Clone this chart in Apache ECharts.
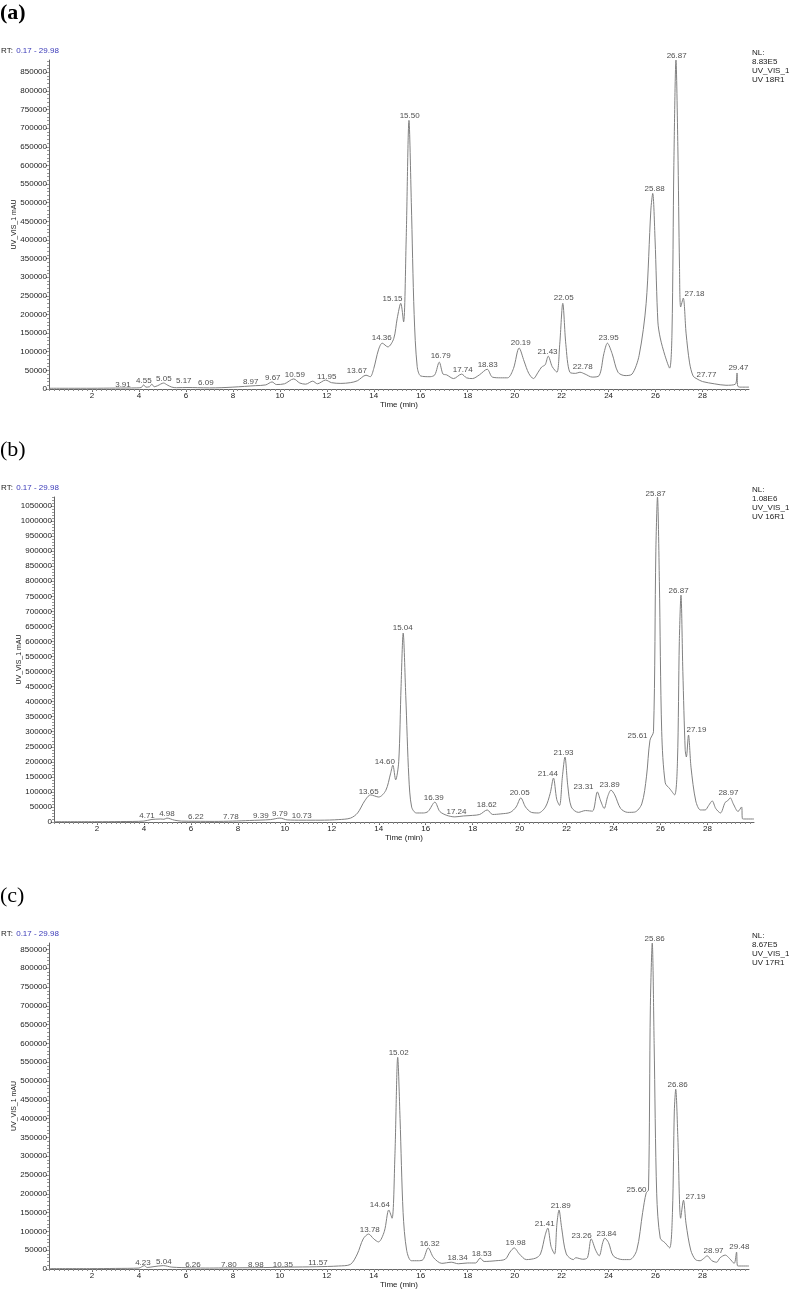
<!DOCTYPE html>
<html>
<head>
<meta charset="utf-8">
<script src="https://cdn.jsdelivr.net/npm/echarts@6/dist/echarts.min.js"></script>
<style>
  html, body { margin: 0; padding: 0; background: #fff; }
  #chart { width: 789px; height: 1290px; }
</style>
</head>
<body>
<div id="chart"></div>
<script>
// retention time (min) / intensity pairs
const traceA = [[0.17,2000],[1,2000],[2,2000],[3,2500],[3.91,3000],[4.1,4000],[4.2,11000],[4.3,5000],[4.45,6000],[4.55,13000],[4.65,6000],[4.8,9000],[5.05,16000],[5.2,11000],[5.4,5000],[5.6,3500],[6.09,4000],[6.5,3500],[7,3000],[7.5,3500],[8,5000],[8.5,7000],[8.97,9000],[9.4,11000],[9.67,19000],[9.85,12000],[10.2,14000],[10.59,27000],[10.85,16000],[11.1,13000],[11.4,21000],[11.6,14000],[11.95,24000],[12.2,17000],[12.6,15000],[13.0,17000],[13.3,22000],[13.67,37000],[13.85,33000],[14.0,55000],[14.2,105000],[14.36,123000],[14.6,113000],[14.85,135000],[15.0,190000],[15.15,230000],[15.27,180000],[15.38,400000],[15.5,721000],[15.6,500000],[15.72,200000],[15.85,60000],[16.0,35000],[16.4,33000],[16.6,38000],[16.79,72000],[16.95,40000],[17.1,38000],[17.4,28000],[17.74,40000],[17.95,30000],[18.2,28000],[18.5,38000],[18.83,53000],[19.05,32000],[19.4,30000],[19.7,30000],[19.95,55000],[20.19,110000],[20.4,75000],[20.6,42000],[20.8,28000],[21.0,45000],[21.15,59000],[21.3,65000],[21.43,88000],[21.6,60000],[21.8,45000],[21.92,120000],[22.05,230000],[22.18,120000],[22.35,45000],[22.6,42000],[22.78,45000],[23.0,40000],[23.3,32000],[23.6,36000],[23.8,95000],[23.95,123000],[24.15,95000],[24.4,45000],[24.7,36000],[25.0,40000],[25.3,90000],[25.6,230000],[25.8,480000],[25.88,525000],[25.98,400000],[26.1,180000],[26.2,137000],[26.4,90000],[26.6,56000],[26.7,150000],[26.78,600000],[26.87,883000],[26.95,650000],[27.02,330000],[27.07,220000],[27.18,244000],[27.3,150000],[27.45,70000],[27.6,35000],[27.77,27000],[28.0,20000],[28.5,14000],[29.0,10000],[29.4,13000],[29.47,43000],[29.5,8000],[29.6,5000],[29.98,5000]];

const traceB = [[0.17,1000],[2,1000],[3,1500],[4,3000],[4.3,8000],[4.71,10000],[4.85,9000],[4.98,13000],[5.3,6000],[5.6,3000],[6.22,2500],[7,2000],[7.78,3000],[8.5,5000],[9.39,8000],[9.79,13000],[10.1,7000],[10.73,6000],[11.5,6000],[12.3,8000],[12.8,13000],[13.1,30000],[13.4,70000],[13.65,90000],[14.0,83000],[14.3,105000],[14.5,160000],[14.6,189000],[14.72,140000],[14.85,200000],[14.95,450000],[15.04,628000],[15.15,420000],[15.28,150000],[15.4,50000],[15.6,30000],[15.9,30000],[16.1,35000],[16.39,66000],[16.6,35000],[16.9,22000],[17.24,17000],[17.6,20000],[18.0,22000],[18.3,25000],[18.62,40000],[18.85,25000],[19.2,27000],[19.6,32000],[19.85,50000],[20.05,80000],[20.25,50000],[20.5,32000],[20.8,30000],[21.1,50000],[21.3,95000],[21.44,146000],[21.58,75000],[21.7,55000],[21.82,150000],[21.93,216000],[22.05,120000],[22.2,50000],[22.5,32000],[22.8,38000],[23.1,36000],[23.31,100000],[23.45,70000],[23.6,45000],[23.75,85000],[23.89,106000],[24.05,90000],[24.3,45000],[24.6,32000],[24.9,33000],[25.2,60000],[25.4,150000],[25.55,272000],[25.7,300000],[25.8,900000],[25.87,1080000],[25.95,800000],[26.05,300000],[26.2,130000],[26.4,110000],[26.6,90000],[26.72,200000],[26.8,600000],[26.87,754000],[26.95,500000],[27.05,240000],[27.1,216000],[27.19,289000],[27.3,180000],[27.5,70000],[27.7,40000],[27.9,40000],[28.05,55000],[28.2,70000],[28.35,45000],[28.55,30000],[28.75,65000],[28.85,70000],[28.97,80000],[29.1,60000],[29.3,35000],[29.45,50000],[29.5,10000],[29.98,10000]];

const traceC = [[0.17,1000],[2,1000],[3,1500],[4,2500],[4.23,9000],[4.35,4000],[4.6,6000],[5.04,9000],[5.4,5000],[6.26,3000],[7,2500],[7.8,3000],[8.98,3500],[10.35,5000],[11.57,6000],[12.5,8000],[13.0,12000],[13.3,40000],[13.55,80000],[13.78,93000],[14.0,80000],[14.2,72000],[14.45,100000],[14.64,157000],[14.78,135000],[14.9,300000],[15.02,563000],[15.12,400000],[15.25,150000],[15.4,50000],[15.6,22000],[15.9,22000],[16.1,25000],[16.32,56000],[16.55,30000],[16.9,15000],[17.3,18000],[17.6,14000],[18.0,16000],[18.34,16000],[18.53,29000],[18.7,20000],[19.2,22000],[19.6,26000],[19.8,45000],[19.98,56000],[20.2,40000],[20.5,25000],[20.9,29000],[21.1,40000],[21.3,90000],[21.41,109000],[21.55,60000],[21.7,40000],[21.8,120000],[21.89,157000],[22.0,110000],[22.2,40000],[22.5,25000],[22.6,30000],[22.9,26000],[23.1,30000],[23.26,80000],[23.45,50000],[23.6,35000],[23.75,70000],[23.84,82000],[24.0,70000],[24.2,35000],[24.6,25000],[24.9,25000],[25.2,50000],[25.45,150000],[25.6,202000],[25.7,210000],[25.78,700000],[25.86,867000],[25.94,600000],[26.05,200000],[26.2,82000],[26.4,70000],[26.6,56000],[26.72,150000],[26.8,420000],[26.86,478000],[26.95,350000],[27.07,135000],[27.19,183000],[27.3,120000],[27.5,50000],[27.7,25000],[27.9,22000],[28.05,28000],[28.2,35000],[28.4,22000],[28.6,18000],[28.75,30000],[28.97,37000],[29.15,28000],[29.35,15000],[29.45,45000],[29.5,8000],[29.98,8000]];

// peak annotations: [label text, label centre time, label centre intensity]
const peaksA = [['3.91',3.32,10700],['4.55',4.21,21500],['5.05',5.06,26800],['5.17',5.91,21500],['6.09',6.85,16100],['8.97',8.76,18800],['9.67',9.70,29500],['10.59',10.64,37500],['11.95',12.0,32200],['13.67',13.28,48300],['14.36',14.34,136800],['15.15',14.8,241300],['15.50',15.53,732000],['16.79',16.85,88500],['17.74',17.79,51000],['18.83',18.85,64400],['20.19',20.26,123300],['21.43',21.4,99200],['22.05',22.09,244000],['22.78',22.9,59000],['23.95',24.0,136800],['25.88',25.96,536300],['26.87',26.9,895600],['27.18',27.66,254700],['27.77',28.17,37500],['29.47',29.53,56300]];

const peaksB = [['4.71',4.13,19900],['4.98',4.98,26600],['6.22',6.21,16600],['7.78',7.7,16600],['9.39',8.98,19900],['9.79',9.79,26600],['10.73',10.72,19900],['13.65',13.57,99700],['14.60',14.26,199400],['15.04',15.02,644600],['16.39',16.34,79700],['17.24',17.31,33200],['18.62',18.6,56500],['20.05',20.0,96400],['21.44',21.2,159500],['21.93',21.87,229300],['23.31',22.72,116300],['23.89',23.83,122900],['25.61',25.02,285800],['25.87',25.79,1089900],['26.87',26.77,767600],['27.19',27.53,305700],['28.97',28.89,96400]];

const peaksC = [['4.23',4.17,15900],['5.04',5.06,18600],['6.26',6.3,10600],['7.80',7.83,10600],['8.98',8.98,10600],['10.35',10.13,10600],['11.57',11.62,15900],['13.78',13.83,103600],['14.64',14.26,170000],['15.02',15.06,573700],['16.32',16.38,66400],['18.34',17.57,29200],['18.53',18.6,39800],['19.98',20.04,69100],['21.41',21.28,119500],['21.89',21.96,167300],['23.26',22.85,87600],['23.84',23.91,93000],['25.60',25.19,209800],['25.86',25.96,879100],['26.86',26.94,488700],['27.19',27.7,191200],['28.97',28.47,47800],['29.48',29.57,58400]];

const panelTitles = ['(a)', '(b)', '(c)'];
const nlValues = [883000, 1080000, 867000];
const nlTexts = ['8.83E5', '1.08E6', '8.67E5'];
const runNames = ['UV 18R1', 'UV 16R1', 'UV 17R1'];
const yTopLabels = [850000, 1050000, 850000];
const timeTicks = [2, 4, 6, 8, 10, 12, 14, 16, 18, 20, 22, 24, 26, 28];
const rtMin = 0.17, rtMax = 29.98;

const traces = [traceA, traceB, traceC];
const peaks = [peaksA, peaksB, peaksC];

// plot boxes, px
const boxes = [
  { left: 49, top: 60, width: 700, height: 329 },
  { left: 54, top: 497, width: 700, height: 325 },
  { left: 49, top: 943, width: 700, height: 326 }
];

const minorX = [];
for (let t = 0.2; t < rtMax; t += 0.2) minorX.push(+t.toFixed(1));

const chart = echarts.init(document.getElementById('chart'), null, { renderer: 'canvas' });
const font = 'Liberation Sans, Arial, sans-serif';
const txt = '#222';

const grid = [], xAxis = [], yAxis = [], series = [], graphic = [];

boxes.forEach(function (b, i) {
  grid.push(Object.assign({ outerBoundsMode: 'none' }, b));
  grid.push(Object.assign({ outerBoundsMode: 'none' }, b));
  const yMajor = [], yMinor = [];
  for (let v = 0; v <= yTopLabels[i]; v += 50000) yMajor.push(v);
  for (let v = 0; v <= nlValues[i]; v += 10000) yMinor.push(v);

  xAxis.push({
    type: 'value', gridIndex: 2 * i, min: rtMin, max: rtMax,
    name: 'Time (min)', nameLocation: 'middle', nameGap: 11,
    nameTextStyle: { fontSize: 8, color: txt, fontFamily: font },
    axisLine: { show: true, lineStyle: { color: '#666', width: 1 } },
    axisTick: { show: true, length: 3, customValues: timeTicks, lineStyle: { color: '#666' } },
    axisLabel: { customValues: timeTicks, fontSize: 8, color: txt, fontFamily: font, margin: 3 },
    splitLine: { show: false }
  });
  xAxis.push({
    type: 'value', gridIndex: 2 * i + 1, min: rtMin, max: rtMax,
    axisLine: { show: false },
    axisTick: { show: true, length: 2, customValues: minorX, lineStyle: { color: '#888' } },
    axisLabel: { show: false }, splitLine: { show: false }
  });
  yAxis.push({
    type: 'value', gridIndex: 2 * i, min: 0, max: nlValues[i],
    name: 'UV_VIS_1 mAU', nameLocation: 'middle', nameGap: 31, nameRotate: 90,
    nameMoveOverlap: false,
    nameTextStyle: { fontSize: 7, color: txt, fontFamily: font },
    axisLine: { show: true, lineStyle: { color: '#666', width: 1 } },
    axisTick: { show: true, length: 3, customValues: yMajor, lineStyle: { color: '#666' } },
    axisLabel: {
      customValues: yMajor, fontSize: 8, color: txt, fontFamily: font, margin: 2,
      formatter: v => String(v)
    },
    splitLine: { show: false }
  });
  yAxis.push({
    type: 'value', gridIndex: 2 * i + 1, min: 0, max: nlValues[i],
    axisLine: { show: false },
    axisTick: { show: true, length: 2, customValues: yMinor, lineStyle: { color: '#999' } },
    axisLabel: { show: false }, splitLine: { show: false }
  });

  series.push({
    type: 'line', xAxisIndex: 2 * i, yAxisIndex: 2 * i,
    data: traces[i], showSymbol: false, smooth: 0.3, silent: true,
    lineStyle: { color: '#808080', width: 1 }
  });
  series.push({
    type: 'scatter', xAxisIndex: 2 * i, yAxisIndex: 2 * i,
    data: peaks[i].map(p => [p[1], p[2], p[0]]),
    symbolSize: 0, silent: true, clip: false,
    label: {
      show: true, position: 'inside', formatter: p => p.value[2],
      fontSize: 8, color: txt, fontFamily: font
    }
  });

  // header texts for each panel
  graphic.push({
    type: 'text', left: 0, top: b.top - 58,
    style: {
      text: panelTitles[i], fontSize: 22, fontWeight: i === 0 ? 'bold' : 'normal',
      fontFamily: 'Liberation Serif, Times New Roman, serif', fill: '#000'
    }
  });
  graphic.push({
    type: 'text', left: 1, top: b.top - 15,
    style: {
      text: '{k|RT:} {v|0.17 - 29.98}',
      rich: {
        k: { fontSize: 8, fill: txt, fontFamily: font },
        v: { fontSize: 8, fill: '#3a3ab8', fontFamily: font }
      }
    }
  });
  graphic.push({
    type: 'text', left: 752, top: b.top - 12,
    style: {
      text: 'NL:\n' + nlTexts[i] + '\nUV_VIS_1\n' + runNames[i],
      fontSize: 8, lineHeight: 9, fill: txt, fontFamily: font
    }
  });
});

chart.setOption({
  backgroundColor: '#fff',
  animation: false,
  grid: grid, xAxis: xAxis, yAxis: yAxis, series: series, graphic: graphic
});
</script>
</body>
</html>
